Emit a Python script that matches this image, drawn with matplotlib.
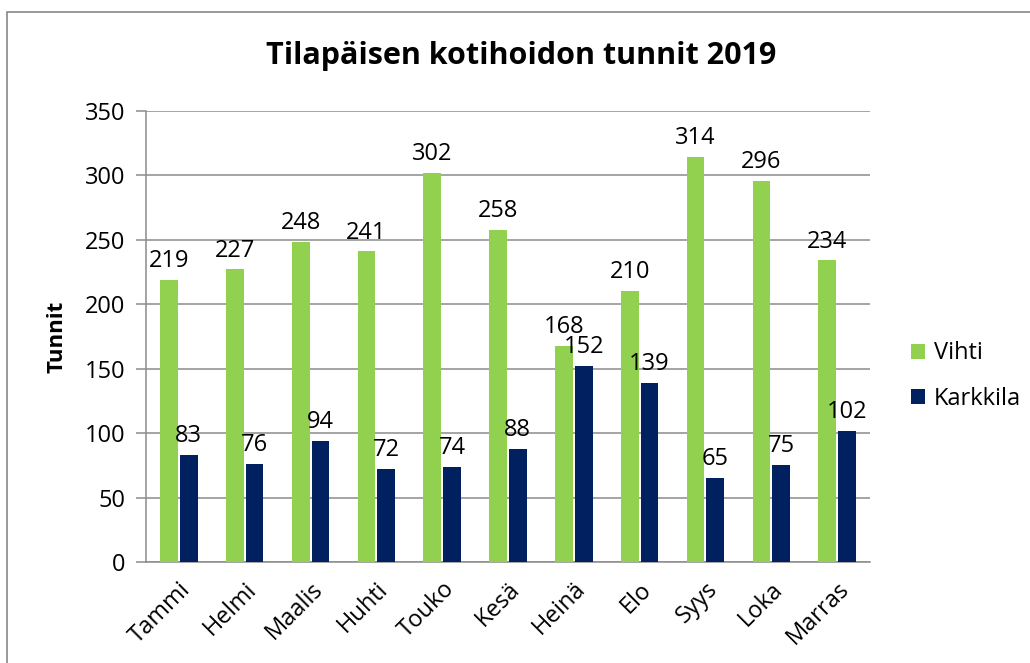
import matplotlib
matplotlib.use("Agg")
import matplotlib.pyplot as plt
import numpy as np
from matplotlib.patches import Rectangle

months = ["Tammi", "Helmi", "Maalis", "Huhti", "Touko", "Kesä", "Heinä",
          "Elo", "Syys", "Loka", "Marras"]
vihti = [219, 227, 248, 241, 302, 258, 168, 210, 314, 296, 234]
karkkila = [83, 76, 94, 72, 74, 88, 152, 139, 65, 75, 102]
y_ticks = [0, 50, 100, 150, 200, 250, 300, 350]

GREEN = "#92D050"
NAVY = "#002060"
GRAY = "#8C8C8C"
FS = 17

plt.rcParams["font.family"] = ["Open Sans", "DejaVu Sans"]

fig = plt.figure(figsize=(10.3, 6.63), dpi=100)
fig.patches.append(Rectangle((7 / 1030, -0.05), 1.1, 1 - 12 / 663 + 0.05,
                             transform=fig.transFigure, fill=False,
                             edgecolor="#888888", linewidth=1.2))

ax = fig.add_axes([146 / 1030, 101 / 663, 724 / 1030, 451 / 663])

x = np.arange(len(months))
w = 0.27
gap = 0.015
b1 = ax.bar(x - w / 2 - gap, vihti, w, color=GREEN, label="Vihti", zorder=3)
b2 = ax.bar(x + w / 2 + gap, karkkila, w, color=NAVY, label="Karkkila", zorder=3)

for bars, vals in ((b1, vihti), (b2, karkkila)):
    for r, v in zip(bars, vals):
        ax.annotate(f"{v}", (r.get_x() + r.get_width() / 2, v),
                    xytext=(0, 5), textcoords="offset points",
                    ha="center", va="bottom", fontsize=FS, color="black",
                    zorder=4)

ax.set_xlim(-0.5, len(months) - 0.5)
ax.set_ylim(0, 350)
ax.set_yticks(y_ticks)
ax.set_yticklabels([str(t) for t in y_ticks], fontsize=FS)
ax.yaxis.grid(True, color=GRAY, linewidth=1.1, zorder=0)
ax.set_axisbelow(True)

ax.set_xticks(x)
ax.set_xticklabels(months, fontsize=FS, rotation=45, ha="right",
                   rotation_mode="anchor")
ax.tick_params(axis="x", length=0, pad=11)
ax.tick_params(axis="y", length=7, width=1.1, color=GRAY, pad=8)

for s in ("top", "right"):
    ax.spines[s].set_visible(False)
for s in ("left", "bottom"):
    ax.spines[s].set_color(GRAY)
    ax.spines[s].set_linewidth(1.1)

ax.set_ylabel("Tunnit", fontsize=FS - 1, fontweight="bold", labelpad=12)

fig.text(521 / 1030, 1 - 56 / 663, "Tilapäisen kotihoidon tunnit 2019",
         ha="center", va="center", fontsize=22, fontweight="bold")

leg = fig.legend(handles=[b1, b2], labels=["Vihti", "Karkkila"],
                 loc="center left", bbox_to_anchor=(890 / 1030, 1 - 376 / 663),
                 frameon=False, fontsize=FS, handlelength=0.6, handleheight=0.6,
                 handletextpad=0.35, labelspacing=0.9)

fig.savefig("out.png", dpi=100)
